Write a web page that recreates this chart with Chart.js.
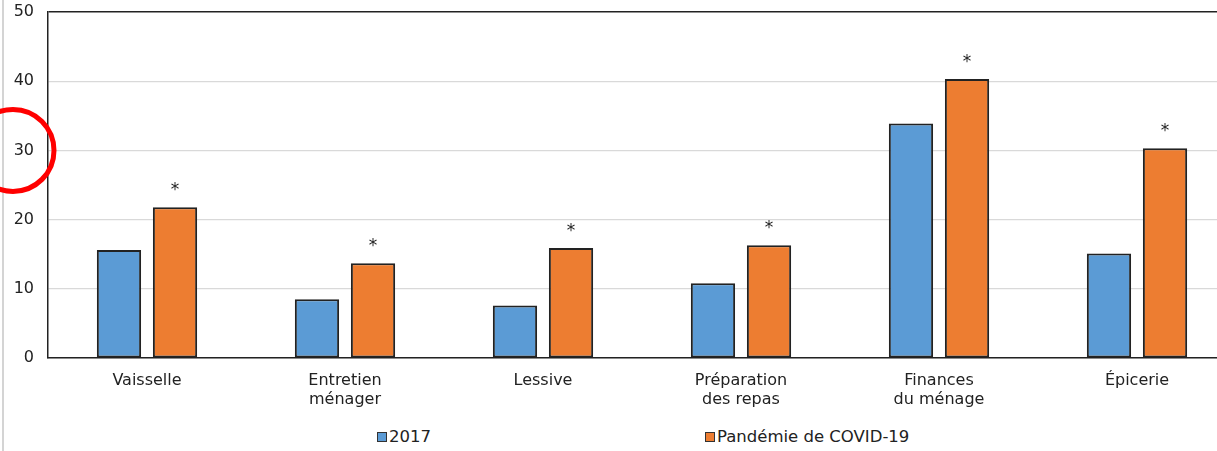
<!DOCTYPE html>
<html lang="fr">
<head>
<meta charset="UTF-8">
<title>Tâches ménagères</title>
<script src="https://cdn.jsdelivr.net/npm/chart.js"></script>
<style>
  html, body {
    margin: 0;
    padding: 0;
    overflow: hidden;
    background: #fff;
    font-family: "DejaVu Sans", Verdana, sans-serif;
  }
  .page-line {
    position: absolute;
    left: 2px;
    top: 0;
    width: 2px;
    height: 451px;
    background: #d4d4d4;
  }
  .chart-box {
    position: absolute;
    left: 0;
    top: 0;
    width: 1240px;
    height: 420px;
  }
  #legend {
    position: absolute;
    top: 427px;
    left: 377px;
    display: flex;
    font-size: 16.5px;
    color: #222;
  }
  #legend .item {
    display: flex;
    align-items: center;
  }
  #legend .item:first-child { width: 328px; }
  #legend .swatch {
    width: 8px;
    height: 8px;
    border: 1px solid #333;
    margin-right: 2px;
  }
</style>
</head>
<body>
<div class="page-line"></div>
<div class="chart-box">
  <canvas id="chores-chart"></canvas>
</div>
<div id="legend"></div>

<script>
  const categories = [
    'Vaisselle',
    ['Entretien', 'ménager'],
    'Lessive',
    ['Préparation', 'des repas'],
    ['Finances', 'du ménage'],
    'Épicerie'
  ];
  const seriesNames = ['2017', 'Pandémie de COVID-19'];
  const values2017 = [15.6, 8.5, 7.6, 10.8, 33.9, 15.1];
  const valuesCovid = [21.8, 13.7, 15.9, 16.3, 40.3, 30.3];
  const significant = [true, true, true, true, true, true]; // * above the covid bars
  const yTicks = [0, 10, 20, 30, 40, 50];
  const circledTick = 30;

  const colors = ['#5b9bd5', '#ed7d31'];

  // asterisks over the covid bars
  const starPlugin = {
    id: 'stars',
    afterDatasetsDraw(chart) {
      const ctx = chart.ctx;
      const meta = chart.getDatasetMeta(1);
      ctx.save();
      ctx.font = '17px "DejaVu Sans"';
      ctx.fillStyle = '#222';
      ctx.textAlign = 'center';
      ctx.textBaseline = 'alphabetic';
      meta.data.forEach(function(bar, i) {
        if (significant[i]) ctx.fillText('*', bar.x, bar.y - 12);
      });
      ctx.restore();
    }
  };

  // red circle drawn round one of the y tick labels
  const circlePlugin = {
    id: 'circle',
    afterDraw(chart) {
      const ctx = chart.ctx;
      const y = chart.scales.y.getPixelForValue(circledTick);
      const x = chart.chartArea.left - 35;
      ctx.save();
      ctx.beginPath();
      ctx.arc(x, y, 41, 0, Math.PI * 2);
      ctx.lineWidth = 5;
      ctx.strokeStyle = '#ff0000';
      ctx.stroke();
      ctx.restore();
    }
  };

  var ctx = document.getElementById('chores-chart').getContext('2d');
  var chart = new Chart(ctx, {
    type: 'bar',
    data: {
      labels: categories,
      datasets: [{
        label: seriesNames[0],
        data: values2017,
        backgroundColor: colors[0],
        borderColor: '#222',
        borderWidth: 2,
        borderSkipped: false,
        categoryPercentage: 0.566,
        barPercentage: 0.79
      }, {
        label: seriesNames[1],
        data: valuesCovid,
        backgroundColor: colors[1],
        borderColor: '#222',
        borderWidth: 2,
        borderSkipped: false,
        categoryPercentage: 0.566,
        barPercentage: 0.79
      }]
    },
    options: {
      responsive: true,
      maintainAspectRatio: false,
      animation: false,
      layout: { padding: { top: 12, left: 0, right: 4, bottom: 0 } },
      plugins: {
        legend: { display: false },
        tooltip: { enabled: false }
      },
      scales: {
        x: {
          grid: { display: false, drawTicks: false },
          border: { color: '#222', width: 1.5 },
          ticks: {
            color: '#222',
            font: { family: 'DejaVu Sans', size: 16 },
            padding: 13,
            maxRotation: 0,
            autoSkip: false
          },
          afterFit(scale) { scale.height = 62; }
        },
        y: {
          min: 0,
          max: 50,
          afterBuildTicks(scale) {
            scale.ticks = yTicks.map(v => ({ value: v }));
          },
          grid: {
            drawTicks: false,
            color: c => c.tick.value === 50 ? '#222' : '#d9d9d9',
            lineWidth: c => c.tick.value === 50 ? 1.5 : 1.2
          },
          border: { color: '#222', width: 1.5 },
          ticks: {
            color: '#222',
            font: { family: 'DejaVu Sans', size: 16 },
            padding: 14
          },
          afterFit(scale) {
            scale.width = 48;
            scale.paddingTop = 0;
            scale.paddingBottom = 0;
          }
        }
      }
    },
    plugins: [starPlugin, circlePlugin]
  });

  // legend laid out like the original, from the series names
  const legend = document.getElementById('legend');
  seriesNames.forEach(function(name, i) {
    const item = document.createElement('div');
    item.className = 'item';
    item.innerHTML = '<span class="swatch" style="background:' + colors[i] + '"></span>' + name;
    legend.appendChild(item);
  });
</script>
</body>
</html>
